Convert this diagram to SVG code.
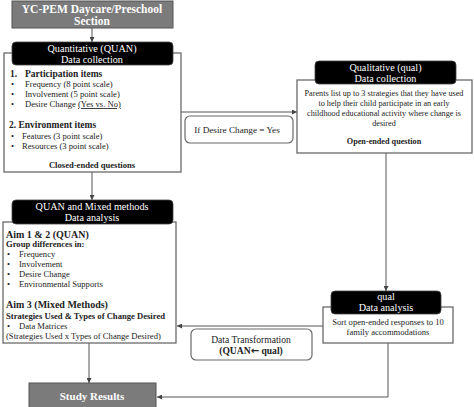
<svg xmlns="http://www.w3.org/2000/svg" width="474" height="407" viewBox="0 0 474 407" font-family="'Liberation Serif','Times New Roman',serif">
<style>
text{font-family:"Liberation Serif","Times New Roman",serif;fill:#222;}
.box{fill:#fff;stroke:#6a6a6a;stroke-width:1.3;}
.hdr{fill:#000;stroke:#444;stroke-width:0.8;}
.ht{fill:#fff;font-size:10.2px;text-anchor:middle;}
.gray{fill:#7b7b7b;stroke:#555;stroke-width:1;}
.wb{fill:#fff;font-weight:bold;text-anchor:middle;}
.b{font-weight:bold;}
.s{font-size:8.6px;}
.c{text-anchor:middle;}
.lbl{fill:#fff;stroke:#6a6a6a;stroke-width:1.2;}
.cn{fill:none;stroke:#555;stroke-width:1;}
</style>
<defs>
<marker id="ah" viewBox="0 0 6 6" refX="6" refY="3" markerWidth="5" markerHeight="5" orient="auto" markerUnits="userSpaceOnUse">
<path d="M0,0 L6,3 L0,6 z" fill="#444"/>
</marker>
</defs>
<rect width="474" height="407" fill="#fff"/>
<g id="connectors">
<line class="cn" x1="92" y1="28" x2="92" y2="42" marker-end="url(#ah)"/>
<line class="cn" x1="92" y1="172" x2="92" y2="200" marker-end="url(#ah)"/>
<line class="cn" x1="181" y1="112" x2="297" y2="112" marker-end="url(#ah)"/>
<line class="cn" x1="386" y1="153" x2="386" y2="291" marker-end="url(#ah)"/>
<line class="cn" x1="323" y1="326" x2="177" y2="326" marker-end="url(#ah)"/>
<polyline class="cn" points="388,343 388,397 157,397" marker-end="url(#ah)"/>
<line class="cn" x1="89" y1="343" x2="89" y2="383" marker-end="url(#ah)"/>
</g>
<g id="section">
<rect class="gray" x="12" y="1" width="161" height="27"/>
<text class="wb" x="92" y="13" font-size="11.5">YC-PEM Daycare/Preschool</text>
<text class="wb" x="92" y="25" font-size="11.5">Section</text>
</g>
<g id="quan-collection">
<rect class="box" x="4" y="53" width="177" height="119"/>
<rect class="hdr" x="12" y="42" width="161" height="23" rx="4"/>
<text class="ht" x="92" y="51.5">Quantitative (QUAN)</text>
<text class="ht" x="92" y="62.5">Data collection</text>
<text class="b" x="10" y="77" font-size="9.5">1.</text>
<text class="b" x="25" y="77" font-size="9.5">Participation items</text>
<text class="s" x="11" y="87">•</text><text class="s" x="25" y="87">Frequency (8 point scale)</text>
<text class="s" x="11" y="97">•</text><text class="s" x="25" y="97">Involvement (5 point scale)</text>
<text class="s" x="11" y="107">•</text><text class="s" x="25" y="107">Desire Change <tspan text-decoration="underline">(Yes vs. No)</tspan></text>
<text class="b" x="9" y="128" font-size="9.5">2. Environment items</text>
<text class="s" x="11" y="139">•</text><text class="s" x="22" y="139">Features (3 point scale)</text>
<text class="s" x="11" y="149">•</text><text class="s" x="22" y="149">Resources (3 point scale)</text>
<text class="s b c" x="92" y="168">Closed-ended questions</text>
</g>
<g id="condition">
<rect class="lbl" x="185" y="116" width="108" height="27" rx="5"/>
<text class="c" x="237" y="133" font-size="9.2">If Desire Change = Yes</text>
</g>
<g id="qual-collection">
<rect class="box" x="297" y="80" width="175" height="73"/>
<rect class="hdr" x="315" y="61" width="141" height="23" rx="4"/>
<text class="ht" x="385.5" y="70.5">Qualitative (qual)</text>
<text class="ht" x="385.5" y="81.5">Data collection</text>
<text class="c" x="384" y="96" font-size="8.2">Parents list up to 3 strategies that they have used</text>
<text class="c" x="384" y="106" font-size="8.2">to help their child participate in an early</text>
<text class="c" x="384" y="116" font-size="8.2">childhood educational activity where change is</text>
<text class="c" x="384" y="126" font-size="8.2">desired</text>
<text class="c b" x="384" y="144" font-size="8.2">Open-ended question</text>
</g>
<g id="analysis">
<rect class="box" x="3" y="222" width="173" height="121"/>
<rect class="hdr" x="12" y="200" width="161" height="24" rx="4"/>
<text class="ht" x="92" y="210">QUAN and Mixed methods</text>
<text class="ht" x="92" y="221">Data analysis</text>
<text class="b" x="6" y="238" font-size="10">Aim 1 &amp; 2 (QUAN)</text>
<text class="b s" x="6" y="247">Group differences in:</text>
<text class="s" x="7" y="257">•</text><text class="s" x="19" y="257">Frequency</text>
<text class="s" x="7" y="267">•</text><text class="s" x="19" y="267">Involvement</text>
<text class="s" x="7" y="277">•</text><text class="s" x="19" y="277">Desire Change</text>
<text class="s" x="7" y="287">•</text><text class="s" x="19" y="287">Environmental Supports</text>
<text class="b" x="6" y="308" font-size="10">Aim 3 (Mixed Methods)</text>
<text class="b s" x="6" y="319">Strategies Used &amp; Types of Change Desired</text>
<text class="s" x="7" y="329">•</text><text class="s" x="19" y="329">Data Matrices</text>
<text class="s" x="6" y="339">(Strategies Used x Types of  Change Desired)</text>
</g>
<g id="qual-analysis">
<rect class="box" x="323" y="307" width="130" height="36"/>
<rect class="hdr" x="331" y="291" width="110" height="23" rx="4"/>
<text class="ht" x="386" y="300">qual</text>
<text class="ht" x="386" y="311">Data analysis</text>
<text class="c s" x="388" y="325">Sort open-ended responses to 10</text>
<text class="c s" x="388" y="335">family accommodations</text>
</g>
<g id="transformation">
<rect class="lbl" x="191" y="329" width="121" height="31" rx="5"/>
<text class="c" x="251" y="343" font-size="9.6">Data Transformation</text>
<text class="c b" x="251" y="354" font-size="9.6">(QUAN<tspan font-family="'DejaVu Sans',sans-serif" font-size="10">←</tspan> qual)</text>
</g>
<g id="results">
<rect class="gray" x="29" y="383" width="127" height="30" fill="#6e6e6e"/>
<text class="wb" x="92" y="400" font-size="11">Study Results</text>
</g>
</svg>
